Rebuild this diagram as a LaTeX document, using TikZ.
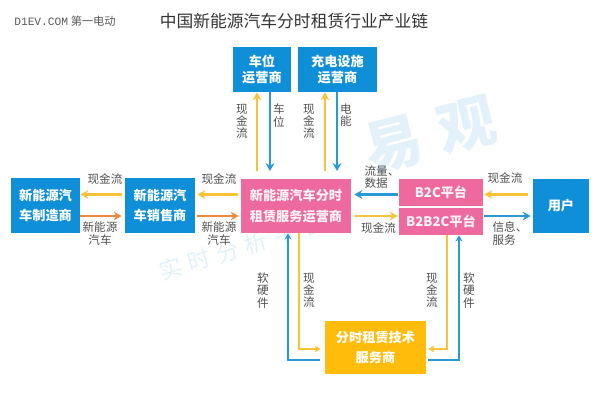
\documentclass[tikz,border=0pt]{standalone}
\usepackage{fontspec}
\setmainfont{Noto Sans CJK SC}
\newfontfamily\logofont{Liberation Mono}
\usetikzlibrary{arrows.meta}
\definecolor{boxblue}{HTML}{0F8FD8}
\definecolor{boxpink}{HTML}{EE6A9E}
\definecolor{boxgold}{HTML}{FFBC0A}
\definecolor{cashgold}{HTML}{F8C33A}
\definecolor{goodsblue}{HTML}{2A9AD6}
\definecolor{carorange}{HTML}{EE8A3C}
\definecolor{labelgrey}{HTML}{505050}
\definecolor{markblue}{HTML}{E2F1FA}

\begin{document}
\begin{tikzpicture}[
        x=0.02cm, y=-0.02cm,
        party/.style={draw=none, fill=boxblue, text=white, align=center, inner sep=0pt, font=\fontsize{7.5}{11.5}\selectfont\bfseries},
        toppart/.style={party, font=\fontsize{7.5}{9.2}\selectfont\bfseries},
        opbox/.style={party, fill=boxpink, text=white!92!boxpink},
        techbox/.style={party, fill=boxgold},
        flow/.style={-{Stealth[length=4.5pt,width=5pt]}, line width=1.3pt},
        smalltip/.style={-{Stealth[length=3.5pt,width=4pt]}, line width=1.2pt},
        cash/.style={flow, cashgold},
        goods/.style={flow, goodsblue},
        car/.style={flow, carorange},
        lab/.style={inner sep=0pt, text=labelgrey, align=center, font=\fontsize{6.6}{7.2}\selectfont},
        vlab/.style={lab, text width=7.5pt, font=\fontsize{6.6}{6.9}\selectfont},
        wmark/.style={inner sep=0pt, text=markblue}
    ]
        \useasboundingbox (0, 0) rectangle (600, 400);

        % watermark
        \node[wmark, rotate=14, font=\fontsize{33}{33}\selectfont\bfseries] (markbig) at (430, 135) {易\hspace{10pt}观};
        \node[wmark, rotate=17, font=\fontsize{13}{13}\selectfont] (marksmall) at (242, 247) {实\hspace{4pt}时\hspace{4pt}分\hspace{4pt}析\hspace{4pt}平\hspace{4pt}台};

        \node[inner sep=0pt, text=black!65, font=\fontsize{6.4}{7}\selectfont] (site) at (65, 21) {{\logofont D1EV.COM} 第一电动};
        \node[inner sep=0pt, text=black!80, font=\fontsize{9.55}{11}\selectfont] (title) at (294, 21) {中国新能源汽车分时租赁行业产业链};

        \node[toppart, minimum width=58*0.569pt, minimum height=45*0.569pt] (parking) at (262, 69.5) {车位\\运营商};
        \node[toppart, minimum width=79*0.569pt, minimum height=45*0.569pt] (charging) at (337.5, 69.5) {充电设施\\运营商};
        \node[party, minimum width=69*0.569pt, minimum height=55*0.569pt] (maker) at (45.5, 205.5) {新能源汽\\车制造商};
        \node[party, minimum width=70*0.569pt, minimum height=55*0.569pt] (seller) at (160, 205.5) {新能源汽\\车销售商};
        \node[opbox, minimum width=110*0.569pt, minimum height=54*0.569pt] (operator) at (296, 206) {新能源汽车分时\\租赁服务运营商};
        \node[opbox, minimum width=84*0.569pt, minimum height=27*0.569pt] (btoc) at (441, 192.5) {B2C平台};
        \node[opbox, minimum width=84*0.569pt, minimum height=27*0.569pt] (btob) at (441, 221.5) {B2B2C平台};
        \node[party, minimum width=56*0.569pt, minimum height=54*0.569pt] (user) at (561, 206) {用户};
        \node[techbox, minimum width=101*0.569pt, minimum height=53*0.569pt] (tech) at (375.5, 347.5) {分时租赁技术\\服务商};

        % top
        \coordinate (c1) at (257, 171);
        \coordinate (g1) at (270, 171);
        \coordinate (c2) at (325, 171);
        \coordinate (g2) at (337, 171);
        \draw[cash] (c1) -- (c1 |- parking.south);
        \draw[goods] (g1 |- parking.south) -- (g1);
        \draw[cash] (c2) -- (c2 |- charging.south);
        \draw[goods] (g2 |- charging.south) -- (g2);

        % rows of the horizontal arrows
        \coordinate (upper) at (0, 194.5);
        \coordinate (lower) at (0, 216);

        % left
        \draw[cash] ([xshift=-0.06cm]seller.west |- upper) -- (maker.east |- upper);
        \draw[car] (maker.east |- lower) -- ([xshift=-0.06cm]seller.west |- lower);
        \draw[cash] ([xshift=-0.06cm]operator.west |- upper) -- ([xshift=0.04cm]seller.east |- upper);
        \draw[car] ([xshift=0.04cm]seller.east |- lower) -- ([xshift=-0.04cm]operator.west |- lower);

        % right
        \draw[goods] ([xshift=-0.02cm]btoc.west |- upper) -- ([xshift=0.06cm]operator.east |- upper);
        \draw[cash] ([xshift=0.08cm]operator.east |- lower) -- ([xshift=-0.02cm]btob.west |- lower);
        \draw[cash] ([xshift=-0.1cm]user.west |- upper) -- ([xshift=0.02cm]btoc.east |- upper);
        \draw[goods] ([xshift=0.02cm]btob.east |- lower) -- ([xshift=-0.04cm]user.west |- lower);

        % bottom
        \coordinate (b1) at (288, 360);
        \coordinate (b2) at (299, 349);
        \coordinate (b3) at (447, 349);
        \coordinate (b4) at (459, 360);
        \draw[goods, smalltip] ([xshift=-0.1cm]tech.west |- b1) -- (b1) -- (b1 |- operator.south);
        \draw[cash, smalltip] (b2 |- operator.south) -- (b2) -- ([xshift=-0.08cm]tech.west |- b2);
        \draw[cash, smalltip] (b3 |- btob.south) -- (b3) -- ([xshift=0.04cm]tech.east |- b3);
        \draw[goods, smalltip] ([xshift=0.04cm]tech.east |- b4) -- (b4) -- (b4 |- btob.south);

        % labels
        \node[vlab] (l1) at (242, 121.5) {现\\金\\流};
        \node[vlab] (l2) at (279, 115.5) {车\\位};
        \node[vlab] (l3) at (309, 121.5) {现\\金\\流};
        \node[vlab] (l4) at (346, 115.5) {电\\能};
        \node[lab] (l5) at (105, 179) {现金流};
        \node[lab] (l6) at (219, 179) {现金流};
        \node[lab] (l7) at (100, 233.5) {新能源\\汽车};
        \node[lab] (l8) at (219, 233.5) {新能源\\汽车};
        \node[lab, align=left] (l9) at (382, 177) {流量、\\数据};
        \node[lab] (l10) at (378.5, 228) {现金流};
        \node[lab] (l11) at (505, 178) {现金流};
        \node[lab, align=left] (l12) at (510, 233.5) {信息、\\服务};
        \node[vlab] (l13) at (263, 290.5) {软\\硬\\件};
        \node[vlab] (l14) at (309, 290.5) {现\\金\\流};
        \node[vlab] (l15) at (432, 290.5) {现\\金\\流};
        \node[vlab] (l16) at (469, 290.5) {软\\硬\\件};
    \end{tikzpicture}
\end{document}
